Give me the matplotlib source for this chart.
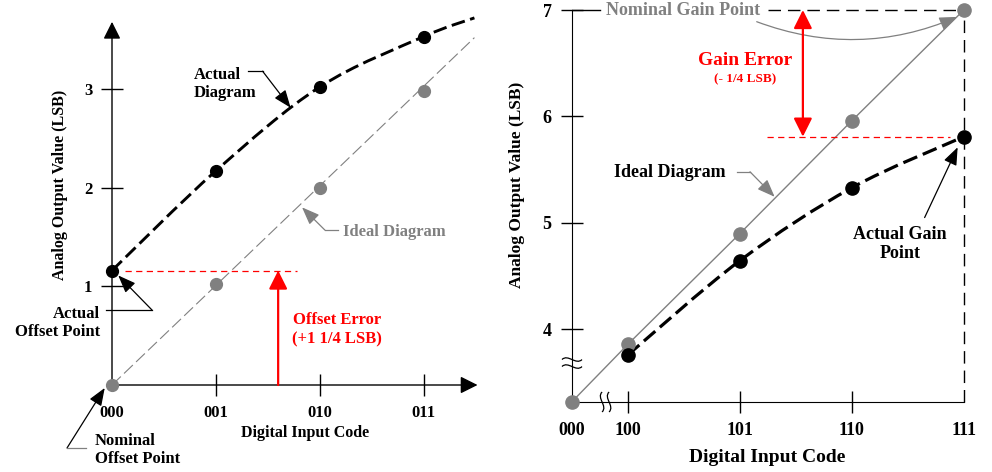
import numpy as np
import matplotlib
matplotlib.use("Agg")
import matplotlib.pyplot as plt
import matplotlib.transforms as mtransforms
from matplotlib.path import Path
from matplotlib.patches import PathPatch, FancyArrowPatch

plt.rcParams["font.family"] = ["Liberation Serif", "DejaVu Serif"]
plt.rcParams["font.weight"] = "bold"

# ---- left panel: offset error ----
off_codes = ["000", "001", "010", "011"]
off_x = [0, 1, 2, 3]
off_ideal = [0.0, 1.02, 2.0, 2.98]
off_actual = [1.16, 2.17, 3.02, 3.53]
off_curve_end = (3.49, 3.72)   # where the dashed "actual" line stops
off_ideal_end = (3.49, 3.52)
off_yticks = [1, 2, 3]

# ---- right panel: gain error ----
gain_codes = ["000", "100", "101", "110", "111"]
gain_x = [3.5, 4, 5, 6, 7]
gain_ideal = [3.32, 3.86, 4.90, 5.96, 7.0]
gain_actual_x = [4, 5, 6, 7]
gain_actual = [3.76, 4.645, 5.33, 5.81]
gain_yticks = [4, 5, 6, 7]

GRAY = "#808080"
RED = "#ff0000"
W, H = 992, 472


def smooth_path(xs, ys):
    # catmull-rom through the points, drawn as cubic beziers
    pts = np.column_stack([xs, ys]).astype(float)
    ext = np.vstack([pts[0], pts, pts[-1]])
    verts, codes = [pts[0]], [Path.MOVETO]
    for i in range(len(pts) - 1):
        p0, p1, p2, p3 = ext[i], ext[i + 1], ext[i + 2], ext[i + 3]
        verts += [p1 + (p2 - p0) / 6, p2 - (p3 - p1) / 6, p2]
        codes += [Path.CURVE4] * 3
    return Path(verts, codes)


def arrow(ax, start, end, color="black", style="-|>", lw=1.0, scale=12, **kw):
    a = FancyArrowPatch(start, end, arrowstyle=style, mutation_scale=scale,
                        color=color, lw=lw, shrinkA=0, shrinkB=0, clip_on=False, **kw)
    ax.add_patch(a)


def axis_break(ax, x, y, vertical=False):
    # two small S-curves, sized in pixels around a data point
    trans = mtransforms.Affine2D().scale(1 / 100) + fig.dpi_scale_trans + \
        mtransforms.ScaledTranslation(x, y, ax.transData)
    for off in (-3.5, 3.5):
        v = [(-10, off), (-4, off + 6), (4, off - 6), (10, off)]
        if vertical:
            v = [(b, a) for a, b in v]
        p = Path(v, [Path.MOVETO, Path.CURVE4, Path.CURVE4, Path.CURVE4])
        ax.add_patch(PathPatch(p, fill=False, ec="black", lw=0.9, transform=trans, clip_on=False))


def px_axes(x0, y0, x1, y1):
    return fig.add_axes([x0 / W, 1 - y1 / H, (x1 - x0) / W, (y1 - y0) / H])


fig = plt.figure(figsize=(W / 100, H / 100), dpi=100)

# =================== left ===================
axL = px_axes(112, 10, 490, 385)
axL.set_xlim(0, 3.64)
axL.set_ylim(0, 3.80)
for s in axL.spines.values():
    s.set_visible(False)
axL.set_xticks(off_x, off_codes)
axL.set_yticks(off_yticks, [str(t) for t in off_yticks])
axL.tick_params(direction="inout", length=16.5, width=1, labelsize=12, pad=6)
axL.xaxis.get_major_ticks()[0].tick1line.set_visible(False)

# axes with arrows
arrow(axL, (0, 0), (3.52, 0), style="-|>,head_length=0.7,head_width=0.35", lw=1, scale=15)
arrow(axL, (0, 0), (0, 3.68), style="-|>,head_length=0.7,head_width=0.35", lw=1, scale=15)

axL.plot([0, off_ideal_end[0]], [off_ideal[0], off_ideal_end[1]], color=GRAY, lw=0.8,
         ls=(0, (11, 4)), clip_on=False)
axL.add_patch(PathPatch(smooth_path(off_x + [off_curve_end[0]], off_actual + [off_curve_end[1]]),
                        fill=False, ec="black", lw=2.1, ls=(0, (4.7, 1.9)), clip_on=False))
axL.plot(off_x, off_ideal, "o", color=GRAY, ms=8.5, clip_on=False, zorder=5)
axL.plot(off_x, off_actual, "o", color="black", ms=8.5, clip_on=False, zorder=5)

# offset error
axL.plot([0.125, 1.78], [off_actual[0]] * 2, color=RED, lw=0.9, ls=(0, (5, 3.5)))
arrow(axL, (1.6, 0), (1.6, off_actual[0]), color=RED, style="-|>,head_length=0.8,head_width=0.4",
      lw=1.6, scale=14)
axL.text(2.17, 0.56, "Offset Error\n(+1 1/4 LSB)", color=RED, ha="center", va="center",
         fontsize=12, linespacing=1.25)

# leaders
axL.text(0.79, 3.05, "Actual\nDiagram", ha="left", va="center", fontsize=12, linespacing=1.2)
axL.plot([1.31, 1.45], [3.18, 3.18], color="black", lw=0.9)
arrow(axL, (1.45, 3.18), (1.72, 2.81), style="-|>,head_length=0.9,head_width=0.35", lw=0.9)

axL.text(2.22, 1.55, "Ideal Diagram", ha="left", va="center", fontsize=12, color=GRAY)
axL.plot([2.05, 2.175], [1.57, 1.57], color=GRAY, lw=0.9)
arrow(axL, (2.05, 1.57), (1.83, 1.80), color=GRAY, style="-|>,head_length=0.9,head_width=0.35", lw=0.9)

axL.text(-0.115, 0.63, "Actual\nOffset Point", ha="right", va="center", fontsize=12,
         multialignment="right", linespacing=1.2, clip_on=False)
axL.plot([-0.058, 0.385], [0.76, 0.76], color="black", lw=0.9, clip_on=False)
arrow(axL, (0.385, 0.76), (0.06, 1.11), style="-|>,head_length=0.9,head_width=0.35", lw=0.9)

axL.text(-0.164, -0.66, "Nominal\nOffset Point", ha="left", va="center", fontsize=12,
         linespacing=1.2, clip_on=False)
axL.plot([-0.433, -0.25], [-0.638, -0.638], color=GRAY, lw=0.9, clip_on=False)
arrow(axL, (-0.433, -0.638), (-0.07, -0.03), style="-|>,head_length=0.9,head_width=0.35", lw=0.9)

axL.text(1.86, -0.49, "Digital Input Code", ha="center", va="center", fontsize=11.5)
axL.text(-0.5, 2.03, "Analog Output Value (LSB)", ha="center", va="center", fontsize=11.5,
         rotation=90)

# =================== right ===================
axR = px_axes(572, 5, 975, 402)
axR.set_xlim(3.5, 7.1)
axR.set_ylim(3.317, 7.047)
axR.spines[["top", "right"]].set_visible(False)
axR.spines["left"].set_bounds(3.317, 7)
axR.spines["bottom"].set_bounds(3.5, 7)
axR.set_xticks(gain_x, gain_codes)
axR.set_yticks(gain_yticks, [str(t) for t in gain_yticks])
axR.tick_params(direction="inout", length=16.5, width=1, labelsize=13, pad=6.5)
xt = axR.xaxis.get_major_ticks()
xt[0].tick1line.set_visible(False)
xt[-1].tick1line.set_visible(False)

# axis breaks
axis_break(axR, 3.5, 3.683)
axis_break(axR, 3.80, 3.317, vertical=True)

# nominal gain point guides
axR.plot([3.5, 3.75], [gain_ideal[-1]] * 2, color="black", lw=1)
axR.plot([5.25, gain_x[-1]], [gain_ideal[-1]] * 2, color="black", lw=1, ls=(0, (9, 5)))
axR.plot([gain_x[-1]] * 2, [3.317, gain_ideal[-1]], color="black", lw=1, ls=(0, (9, 5)),
         clip_on=False)
axR.text(3.80, 7.0, "Nominal Gain Point", ha="left", va="center", fontsize=13, color=GRAY)
arrow(axR, (5.15, 6.89), (6.94, 6.935), color=GRAY,
      style="-|>,head_length=0.9,head_width=0.35", lw=0.9, connectionstyle="arc3,rad=0.2")

axR.plot(gain_x, gain_ideal, color=GRAY, lw=1, clip_on=False)
axR.add_patch(PathPatch(smooth_path(gain_actual_x, gain_actual), fill=False, ec="black",
                        lw=2.3, ls=(0, (4.7, 1.9)), clip_on=False))
axR.plot(gain_x, gain_ideal, "o", color=GRAY, ms=9.5, clip_on=False, zorder=5)
axR.plot(gain_actual_x, gain_actual, "o", color="black", ms=9.5, clip_on=False, zorder=5)

# gain error
axR.plot([5.24, 6.875], [gain_actual[-1]] * 2, color=RED, lw=0.9, ls=(0, (5, 3.5)))
arrow(axR, (5.5625, gain_ideal[-1]), (5.5625, gain_actual[-1]), color=RED,
      style="<|-|>,head_length=0.8,head_width=0.4", lw=1.6, scale=14)
axR.text(5.045, 6.53, "Gain Error", color=RED, ha="center", va="center", fontsize=14)
axR.text(5.045, 6.345, "(- 1/4 LSB)", color=RED, ha="center", va="center", fontsize=9.5)

axR.text(4.375, 5.47, "Ideal Diagram", ha="center", va="center", fontsize=13)
axR.plot([4.97, 5.09], [5.48, 5.48], color=GRAY, lw=0.9)
arrow(axR, (5.09, 5.48), (5.31, 5.245), color=GRAY, style="-|>,head_length=0.9,head_width=0.35", lw=0.9)

axR.text(6.43, 4.80, "Actual Gain\nPoint", ha="center", va="center", fontsize=13, linespacing=1.15)
arrow(axR, (6.65, 5.05), (6.945, 5.71), style="-|>,head_length=0.9,head_width=0.35", lw=0.9)

axR.text(5.24, 2.80, "Digital Input Code", ha="center", va="center", fontsize=14, clip_on=False)
axR.text(3.01, 5.36, "Analog Output Value (LSB)", ha="center", va="center", fontsize=12.5,
         rotation=90)

fig.savefig("out.png", dpi=100)
